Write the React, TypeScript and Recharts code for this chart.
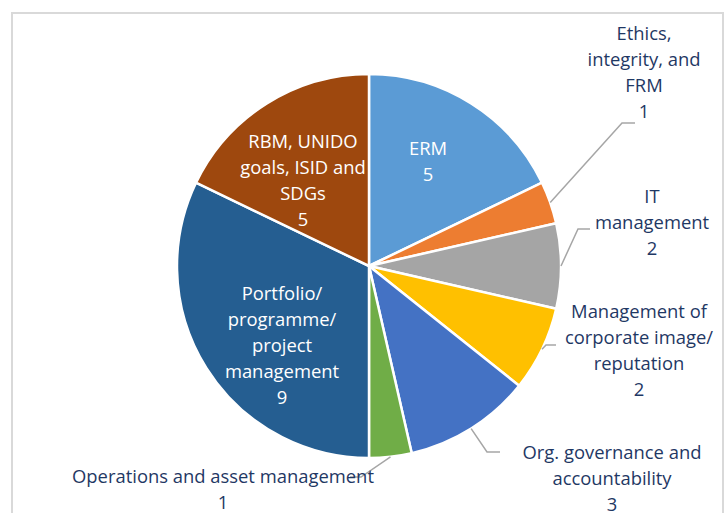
import React from "react";
import { PieChart, Pie, Cell } from "recharts";

const categories = [
  "ERM",
  "Ethics, integrity, and FRM",
  "IT management",
  "Management of corporate image/ reputation",
  "Org. governance and accountability",
  "Operations and asset management",
  "Portfolio/ programme/ project management",
  "RBM, UNIDO goals, ISID and SDGs",
];
const values = [5, 1, 2, 2, 3, 1, 9, 5];
const labelLines = [
  ["ERM"],
  ["Ethics,", "integrity, and", "FRM"],
  ["IT", "management"],
  ["Management of", "corporate image/", "reputation"],
  ["Org. governance and", "accountability"],
  ["Operations and asset management"],
  ["Portfolio/", "programme/", "project", "management"],
  ["RBM, UNIDO", "goals, ISID and", "SDGs"],
];
const colors = ["#5B9BD5", "#ED7D31", "#A5A5A5", "#FFC000", "#4472C4", "#70AD47", "#255E91", "#9E480E"];

// label layout relative to pie centre: text centre x, first line centre y, optional leader elbow
const labelLayout = [
  { tx: 59, ty: -119, inside: true },
  { tx: 275, ty: -234, ex: 253, ey: -143, hx: 266 },
  { tx: 283, ty: -71, ex: 209, ey: -37, hx: 221 },
  { tx: 270, ty: 44, ex: 177, ey: 79, hx: 187 },
  { tx: 243, ty: 185, ex: 118, ey: 186, hx: 131 },
  { tx: -146, ty: 209, ex: -8, ey: 211, hx: -19 },
  { tx: -87, ty: 26, inside: true },
  { tx: -66, ty: -126, inside: true },
];

const data = categories.map((name, i) => ({ name, value: values[i] }));

const FONT = "'Open Sans', sans-serif";
const LINE_H = 26;
const RAD = Math.PI / 180;

const renderLabel = (props: any) => {
  const { cx, cy, midAngle, outerRadius, index, value } = props;
  const lay = labelLayout[index];
  const lines = [...labelLines[index], String(value)];
  const fill = lay.inside ? "#FFFFFF" : "#1F3864";
  const sx = cx + outerRadius * Math.cos(-midAngle * RAD);
  const sy = cy + outerRadius * Math.sin(-midAngle * RAD);
  return (
    <g key={`lbl-${index}`}>
      {!lay.inside && (
        <polyline
          points={`${sx},${sy} ${cx + lay.ex},${cy + lay.ey} ${cx + lay.hx},${cy + lay.ey}`}
          fill="none"
          stroke="#A6A6A6"
          strokeWidth={1.5}
        />
      )}
      {lines.map((ln, j) => (
        <text
          key={j}
          x={cx + lay.tx}
          y={cy + lay.ty + j * LINE_H}
          textAnchor="middle"
          dominantBaseline="central"
          fill={fill}
          fontFamily={FONT}
          fontSize={18.4}
        >
          {ln}
        </text>
      ))}
    </g>
  );
};

export default function App() {
  return (
    <div style={{ position: "absolute", left: 0, top: 0, width: 728, height: 513, background: "#fff", overflow: "hidden" }}>
      <div
        style={{
          position: "absolute",
          left: 11,
          top: 12,
          width: 709,
          height: 501,
          borderTop: "2px solid #D9D9D9",
          borderLeft: "2px solid #D9D9D9",
          borderRight: "2px solid #D9D9D9",
        }}
      />
      <div style={{ position: "absolute", left: 0, top: 0 }}>
        <PieChart width={728} height={513} margin={{ top: 0, right: 0, bottom: 0, left: 0 }}>
          <Pie
            data={data}
            dataKey="value"
            nameKey="name"
            cx={369}
            cy={266}
            outerRadius={192}
            startAngle={90}
            endAngle={-270}
            stroke="#FFFFFF"
            strokeWidth={2.5}
            label={renderLabel}
            labelLine={false}
            isAnimationActive={false}
          >
            {data.map((d, i) => (
              <Cell key={d.name} fill={colors[i]} />
            ))}
          </Pie>
        </PieChart>
      </div>
    </div>
  );
}
